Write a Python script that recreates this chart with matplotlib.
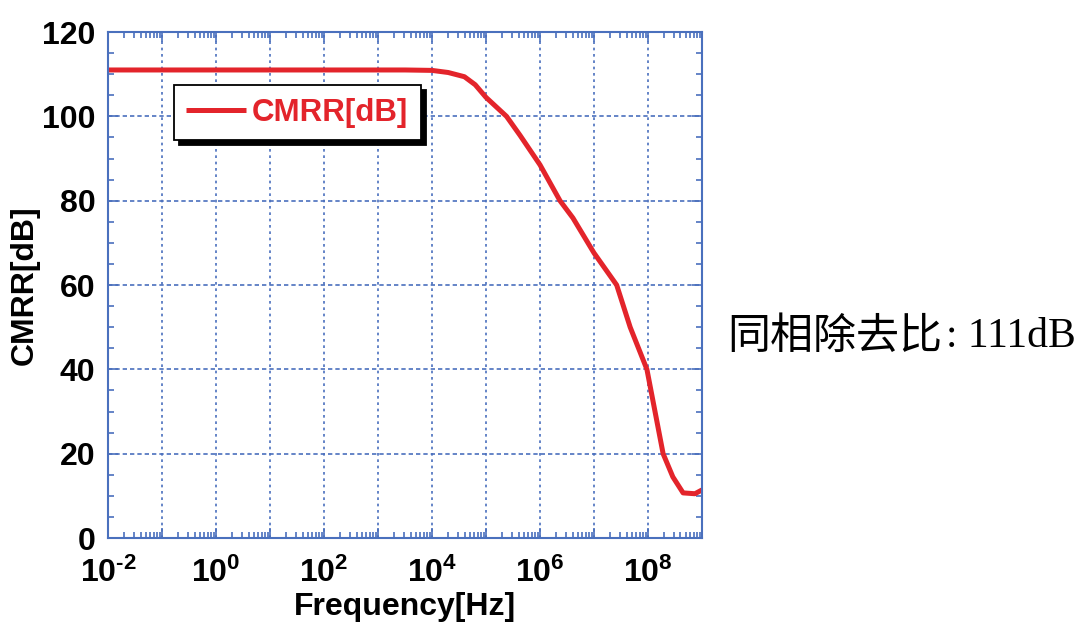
import numpy as np
import matplotlib
matplotlib.use("Agg")
import matplotlib.pyplot as plt
from matplotlib.ticker import FixedLocator, LogLocator, MultipleLocator, NullFormatter

plt.rcParams['font.family'] = ['Liberation Sans', 'DejaVu Sans']
plt.rcParams['mathtext.fontset'] = 'custom'
plt.rcParams['mathtext.rm'] = 'Liberation Sans:bold'
plt.rcParams['mathtext.bf'] = 'Liberation Sans:bold'
plt.rcParams['mathtext.it'] = 'Liberation Sans:bold'

# curve: log10(frequency) and CMRR in dB
log_freq = [-2, 0, 2, 3.5, 4.0, 4.3, 4.6, 4.8, 5.0, 5.38, 5.63, 6.0, 6.37,
            6.61, 7.0, 7.42, 7.67, 7.98, 8.28, 8.46, 8.65, 8.87, 9.0]
cmrr_db = [111, 111, 111, 111, 110.9, 110.4, 109.4, 107.5, 104.5, 100, 95.5, 88.5, 80,
           75.9, 67.6, 60, 50, 40, 20, 14.5, 10.7, 10.5, 11.4]
freq = 10.0 ** np.array(log_freq)

decades = [-2, -1, 0, 1, 2, 3, 4, 5, 6, 7, 8, 9]
x_labels = ['$10^{\u2010 2}$', '', '$10^{0}$', '', '$10^{2}$', '', '$10^{4}$', '',
            '$10^{6}$', '', '$10^{8}$', '']
y_ticks = [0, 20, 40, 60, 80, 100, 120]

blue = '#4a70bd'
red = '#e3242b'

fig = plt.figure(figsize=(10.87, 6.28), dpi=100)
ax = fig.add_axes([0.0994, 0.1433, 0.5464, 0.8057])

ax.plot(freq, cmrr_db, color=red, lw=3.6, label='CMRR[dB]', solid_capstyle='butt')

ax.set_xscale('log')
ax.set_xlim(1e-2, 1e9)
ax.set_ylim(0, 120)

ax.xaxis.set_major_locator(FixedLocator([10.0 ** d for d in decades]))
ax.set_xticklabels(x_labels)
ax.xaxis.set_minor_locator(LogLocator(base=10, subs=np.arange(2, 10), numticks=100))
ax.xaxis.set_minor_formatter(NullFormatter())
ax.set_yticks(y_ticks)
ax.yaxis.set_minor_locator(MultipleLocator(5))

for s in ax.spines.values():
    s.set_color(blue)
    s.set_linewidth(1.5)

ax.tick_params(which='both', direction='in', top=True, right=True, color=blue, width=1.2)
ax.tick_params(which='major', length=7)
ax.tick_params(which='minor', length=4.5)
ax.tick_params(axis='x', which='major', labelsize=23, pad=14)
ax.tick_params(axis='y', which='major', labelsize=23, pad=9)
for lab in ax.get_yticklabels():
    lab.set_fontweight('bold')

ax.grid(True, axis='x', which='major', color=blue, lw=1.2, linestyle=(0, (1.6, 2.2)))
ax.grid(True, axis='y', which='major', color=blue, lw=1.2, linestyle=(0, (2.6, 1.8)))

ax.set_xlabel('Frequency[Hz]', fontsize=23, fontweight='bold', labelpad=2)
ax.set_ylabel('CMRR[dB]', fontsize=23, fontweight='bold', labelpad=2)

leg = ax.legend(loc='upper left', bbox_to_anchor=(0.111, 0.895), frameon=True,
                fancybox=False, shadow={'color': 'black', 'alpha': 1, 'ox': 3.5, 'oy': -3.5},
                prop={'weight': 'bold', 'size': 22.5}, labelcolor='linecolor',
                handlelength=1.9, handletextpad=0.2, borderpad=0.4, borderaxespad=0)
leg.get_frame().set_edgecolor('black')
leg.get_frame().set_linewidth(1.3)
leg.get_frame().set_alpha(1)

fig.text(0.669, 0.463, '同相除去比', fontsize=31, va='center', ha='left',
         family=['Noto Sans CJK SC'])
fig.text(0.8705, 0.463, ': 111dB', fontsize=30, va='center', ha='left',
         family=['Liberation Serif'])

fig.savefig('out.png', dpi=100)
